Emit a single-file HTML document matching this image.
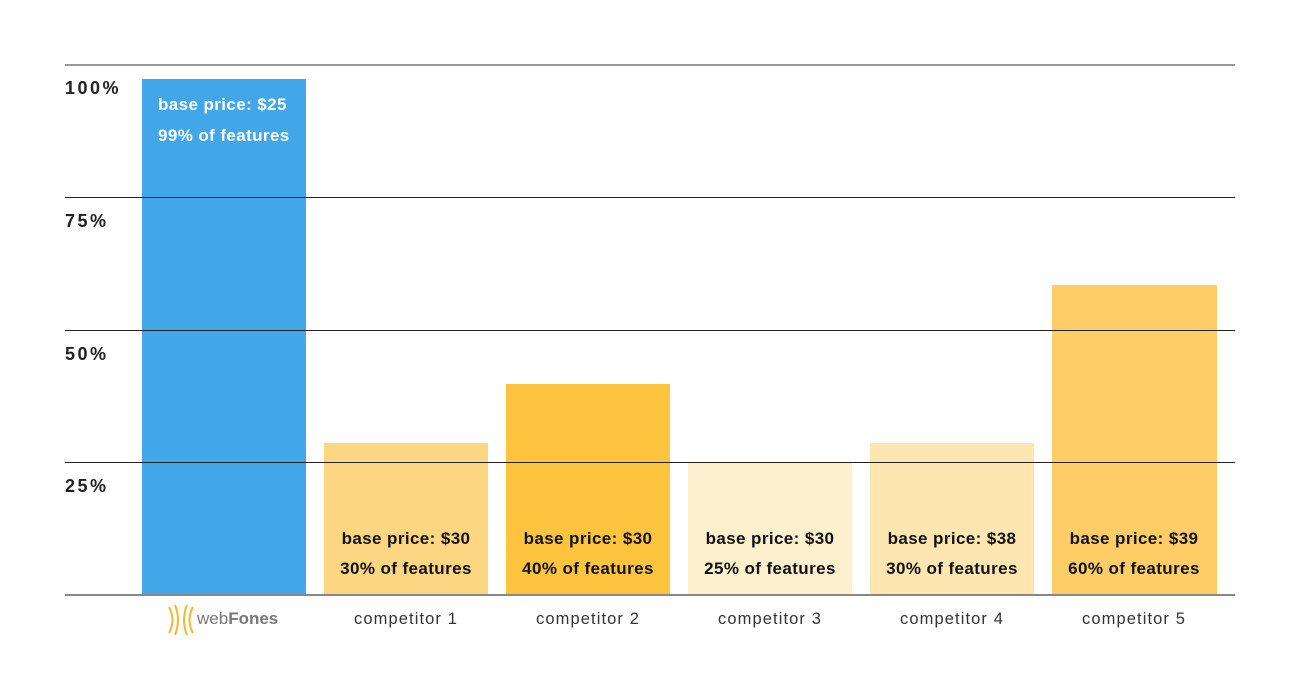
<!DOCTYPE html>
<html><head><style>
body{margin:0;background:#fff;width:1300px;height:700px;position:relative;overflow:hidden;font-family:"Liberation Sans",sans-serif}
.g{position:absolute;left:65px;width:1170px;height:1px;background:#222;z-index:2}
.bar{position:absolute;width:164px;bottom:105px}
.yl{position:absolute;left:65px;font-weight:bold;font-size:18px;letter-spacing:2.5px;color:#222}
.t{position:absolute;font-weight:bold;font-size:17px;letter-spacing:0.4px;color:#111;white-space:nowrap;text-align:center;width:164px}
.x{position:absolute;top:610px;width:164px;text-align:center;font-size:16.5px;letter-spacing:1.1px;color:#333}
</style></head><body>
<div style="position:absolute;left:65px;top:64px;width:1170px;height:2px;background:#999;z-index:2"></div>
<div class="g" style="top:197px"></div>
<div class="g" style="top:330px"></div>
<div class="g" style="top:462px"></div>
<div style="position:absolute;left:65px;top:594px;width:1170px;height:2px;background:#888;z-index:2"></div>
<div class="yl" style="top:78px">100%</div>
<div class="yl" style="top:211px">75%</div>
<div class="yl" style="top:344px">50%</div>
<div class="yl" style="top:476px">25%</div>
<div class="bar" style="left:142px;top:79px;background:#42a7e8"></div>
<div class="bar" style="left:324px;top:443px;background:#fdd681"></div>
<div class="bar" style="left:506px;top:384px;background:#fec43d"></div>
<div class="bar" style="left:688px;top:462px;background:#fdf0cf"></div>
<div class="bar" style="left:870px;top:443px;background:#fee6b0"></div>
<div class="bar" style="left:1052px;top:285px;width:165px;background:#fecd66"></div>
<div class="t" style="left:158px;top:95px;color:#fff;text-align:left">base price: $25</div>
<div class="t" style="left:158px;top:126px;color:#fff;text-align:left">99% of features</div>
<div class="t" style="left:324px;top:529px">base price: $30</div><div class="t" style="left:324px;top:559px">30% of features</div>
<div class="t" style="left:506px;top:529px">base price: $30</div><div class="t" style="left:506px;top:559px">40% of features</div>
<div class="t" style="left:688px;top:529px">base price: $30</div><div class="t" style="left:688px;top:559px">25% of features</div>
<div class="t" style="left:870px;top:529px">base price: $38</div><div class="t" style="left:870px;top:559px">30% of features</div>
<div class="t" style="left:1052px;top:529px">base price: $39</div><div class="t" style="left:1052px;top:559px">60% of features</div>
<div style="position:absolute;left:166px;top:603px">
<svg width="30" height="34" viewBox="0 0 30 34"><g fill="none" stroke="#f5b731" stroke-width="2"><path d="M3 4 Q10 17 3 30"/><path d="M9 2 Q15 17 9 32"/><path d="M21 2 Q15 17 21 32"/><path d="M27 4 Q20 17 27 30"/></g></svg>
</div>
<div style="position:absolute;left:197px;top:609px;font-size:17px;color:#777">web<b>Fones</b></div>
<div class="x" style="left:324px">competitor 1</div>
<div class="x" style="left:506px">competitor 2</div>
<div class="x" style="left:688px">competitor 3</div>
<div class="x" style="left:870px">competitor 4</div>
<div class="x" style="left:1052px">competitor 5</div>
</body></html>
